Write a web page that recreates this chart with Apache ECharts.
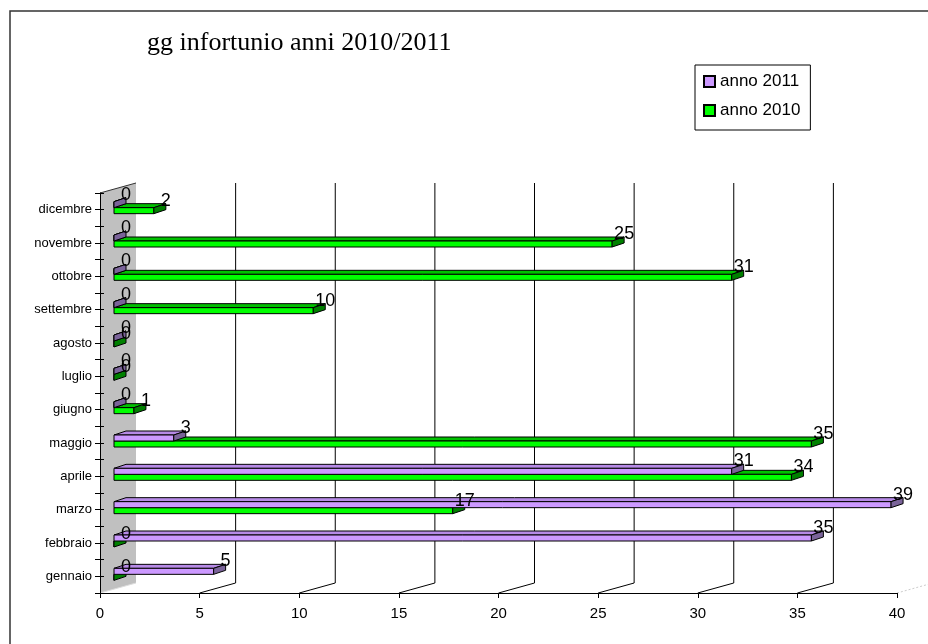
<!DOCTYPE html>
<html>
<head>
<meta charset="utf-8">
<script src="https://cdn.jsdelivr.net/npm/echarts@6/dist/echarts.min.js"></script>
<style>
  html, body { margin: 0; padding: 0; background: #fff; }
  #main { width: 928px; height: 644px; }
</style>
</head>
<body>
<div id="main"></div>
<script>
// dati
const months = ['gennaio', 'febbraio', 'marzo', 'aprile', 'maggio', 'giugno',
  'luglio', 'agosto', 'settembre', 'ottobre', 'novembre', 'dicembre']
const anno2011 = [5, 35, 39, 31, 3, 0, 0, 0, 0, 0, 0, 0]
const anno2010 = [0, 0, 17, 34, 35, 1, 0, 0, 10, 31, 25, 2]
const xTicks = [0, 5, 10, 15, 20, 25, 30, 35, 40]

// profondità 3d (pixel)
const DX = 12, DY = -4        // spessore barre
const WX = 36, WY = -10       // parete di fondo
const BAR_SHIFT = 14

const chart = echarts.init(document.getElementById('main'))

// barre 3d: yOff = posizione della faccia frontale rispetto al centro categoria
function barRenderer (yOff, h, front, top, side) {
  return function (params, api) {
    const v = api.value(0)
    const cat = api.value(1)
    const p0 = api.coord([0, cat])
    const p1 = api.coord([v, cat])
    const x0 = p0[0] + BAR_SHIFT
    const x1 = p1[0] + BAR_SHIFT
    const yT = p0[1] + yOff
    const yB = yT + h
    const line = { stroke: '#000', lineWidth: 1 }
    return {
      type: 'group',
      children: [
        { type: 'polygon', shape: { points: [[x0, yT], [x1, yT], [x1 + DX, yT + DY], [x0 + DX, yT + DY]] },
          style: Object.assign({ fill: top }, line) },
        { type: 'rect', shape: { x: x0, y: yT, width: x1 - x0, height: h },
          style: Object.assign({ fill: front }, line) },
        { type: 'polygon', shape: { points: [[x1, yT], [x1 + DX, yT + DY], [x1 + DX, yB + DY], [x1, yB]] },
          style: Object.assign({ fill: side }, line) }
      ]
    }
  }
}

// etichette valori (sopra tutte le barre)
function labelRenderer (yOff) {
  return function (params, api) {
    const v = api.value(0)
    const cat = api.value(1)
    const p = api.coord([v, cat])
    return {
      type: 'text',
      style: { text: String(v), x: p[0] + BAR_SHIFT + DX, y: p[1] + yOff + DY - 3,
        align: 'center', verticalAlign: 'middle',
        fill: '#000', font: '18px "Liberation Sans", Arial, sans-serif' }
    }
  }
}

// parete laterale, pavimento e griglia di fondo
function wallRenderer (params, api) {
  const v = api.value(0)
  const cs = params.coordSys
  const x = api.coord([v, 0])[0]
  const bottom = cs.y + cs.height
  const children = []
  if (v === 0) {
    children.push({ type: 'polygon', shape: { points: [[x, bottom], [x, cs.y], [x + WX, cs.y + WY], [x + WX, bottom + WY]] },
      style: { fill: '#C0C0C0' } })
    children.push({ type: 'line', shape: { x1: x, y1: cs.y, x2: x + WX, y2: cs.y + WY },
      style: { stroke: '#333', lineWidth: 1 } })
    children.push({ type: 'line', shape: { x1: x + WX + 1, y1: cs.y + WY, x2: x + WX + 1, y2: bottom + WY },
      style: { stroke: '#fff', lineWidth: 2 } })
    children.push({ type: 'line', shape: { x1: x, y1: bottom, x2: x + WX, y2: bottom + WY },
      style: { stroke: '#ddd', lineWidth: 1 } })
  } else if (v === 40) {
    children.push({ type: 'line', shape: { x1: x, y1: bottom, x2: x + WX, y2: bottom + WY },
      style: { stroke: '#ccc', lineWidth: 1, lineDash: [2, 2] } })
  } else {
    children.push({ type: 'line', shape: { x1: x + WX, y1: cs.y + WY, x2: x + WX, y2: bottom + WY },
      style: { stroke: '#000', lineWidth: 1 } })
    children.push({ type: 'line', shape: { x1: x, y1: bottom, x2: x + WX, y2: bottom + WY },
      style: { stroke: '#000', lineWidth: 1 } })
  }
  return { type: 'group', children: children }
}

const catAxis = (extra) => Object.assign({
  type: 'category',
  data: months,
  z: 5,
  axisLine: { show: false },
  axisLabel: { show: false },
  axisTick: { show: true, length: 5, lineStyle: { color: '#000' } },
  splitLine: { show: false }
}, extra)

const option = {
  animation: false,
  backgroundColor: '#fff',
  graphic: [
    { type: 'rect', shape: { x: 10, y: 11, width: 1000, height: 1000 },
      style: { fill: 'none', stroke: '#333', lineWidth: 1.5 }, z: 100 }
  ],
  title: {
    text: 'gg infortunio anni 2010/2011',
    left: 147,
    top: 28,
    padding: 0,
    textStyle: { fontFamily: '"Liberation Serif", "Times New Roman", serif', fontWeight: 'normal',
      fontSize: 26, color: '#000', lineHeight: 30 }
  },
  legend: {
    data: ['anno 2011', 'anno 2010'],
    orient: 'vertical',
    left: 695,
    top: 65,
    padding: [8, 10, 11, 8],
    itemGap: 12,
    itemWidth: 11,
    itemHeight: 11,
    icon: 'rect',
    borderColor: '#000',
    borderWidth: 1,
    borderRadius: 0,
    textStyle: { fontFamily: '"Liberation Sans", Arial, sans-serif', fontSize: 17, color: '#000' }
  },
  grid: { left: 100, top: 193, width: 797, height: 400 },
  xAxis: {
    type: 'value',
    min: 0,
    max: 40,
    interval: 5,
    z: 5,
    axisLine: { show: true, lineStyle: { color: '#000' } },
    axisTick: { show: true, length: 5, lineStyle: { color: '#000' } },
    axisLabel: { color: '#000', fontSize: 15, margin: 13, fontFamily: '"Liberation Sans", Arial, sans-serif' },
    splitLine: { show: false }
  },
  yAxis: [
    catAxis({
      axisLine: { show: true, lineStyle: { color: '#000' } },
      axisLabel: { show: true, color: '#000', fontSize: 13, margin: 8, fontFamily: '"Liberation Sans", Arial, sans-serif' }
    }),
    catAxis({ position: 'left', axisTick: { show: true, alignWithLabel: true, length: 5, lineStyle: { color: '#000' } } }),
    catAxis({ position: 'left', axisTick: { show: true, inside: true, length: 4, lineStyle: { color: '#000' } } }),
    catAxis({ position: 'left', axisTick: { show: true, inside: true, alignWithLabel: true, length: 4, lineStyle: { color: '#000' } } })
  ],
  series: [
    {
      name: 'wall',
      type: 'custom',
      silent: true,
      z: 1,
      clip: false,
      renderItem: wallRenderer,
      encode: { x: 0 },
      data: xTicks.map((t) => [t, 0])
    },
    {
      name: 'anno 2010',
      type: 'custom',
      z: 2,
      clip: false,
      itemStyle: { color: '#00FF00', borderColor: '#000', borderWidth: 1 },
      renderItem: barRenderer(-2, 6, '#00FF00', '#00C000', '#008000'),
      encode: { x: 0, y: 1 },
      data: anno2010.map((v, i) => [v, i])
    },
    {
      name: 'anno 2011',
      type: 'custom',
      z: 3,
      clip: false,
      itemStyle: { color: '#CC99FF', borderColor: '#000', borderWidth: 1 },
      renderItem: barRenderer(-8, 6, '#CC99FF', '#B68AE6', '#7A6399'),
      encode: { x: 0, y: 1 },
      data: anno2011.map((v, i) => [v, i])
    },
    {
      name: 'etichette 2010',
      type: 'custom',
      silent: true,
      z: 10,
      clip: false,
      renderItem: labelRenderer(-2),
      encode: { x: 0, y: 1 },
      data: anno2010.map((v, i) => [v, i])
    },
    {
      name: 'etichette 2011',
      type: 'custom',
      silent: true,
      z: 10,
      clip: false,
      renderItem: labelRenderer(-8),
      encode: { x: 0, y: 1 },
      data: anno2011.map((v, i) => [v, i])
    }
  ]
}

chart.setOption(option)
</script>
</body>
</html>
